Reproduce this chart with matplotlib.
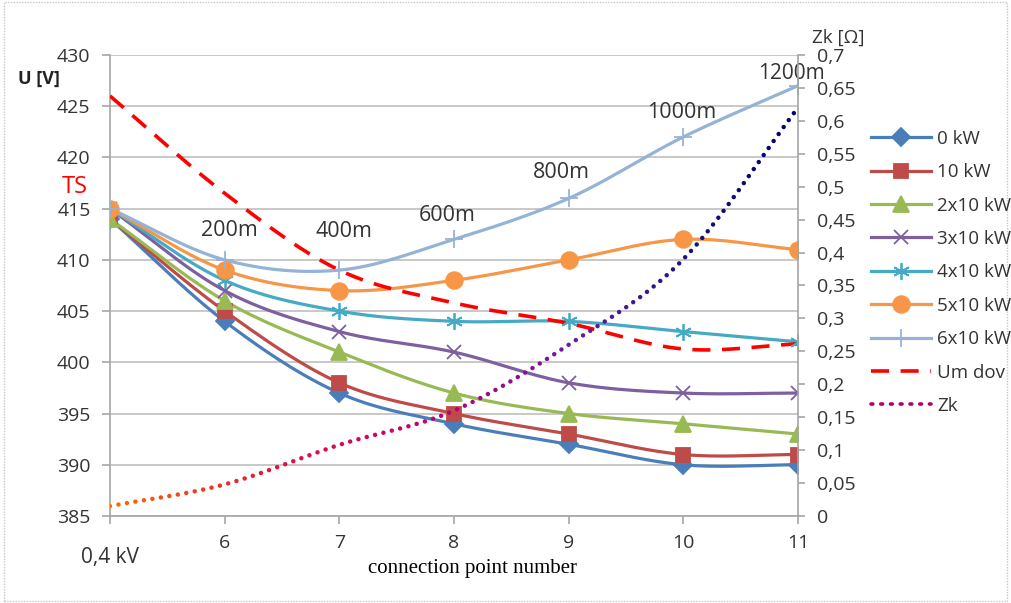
import numpy as np
import matplotlib
matplotlib.use("Agg")
import matplotlib.pyplot as plt
from matplotlib.transforms import ScaledTranslation
from matplotlib.patches import Rectangle
from matplotlib.lines import Line2D
from matplotlib.colors import LinearSegmentedColormap

plt.rcParams['font.family'] = ['Open Sans', 'DejaVu Sans']

# DATA
categories = ['0,4 kV', '6', '7', '8', '9', '10', '11']
u_0kw = [414, 404, 397, 394, 392, 390, 390]
u_10kw = [414, 405, 398, 395, 393, 391, 391]
u_2x10 = [414, 406, 401, 397, 395, 394, 393]
u_3x10 = [415, 407, 403, 401, 398, 397, 397]
u_4x10 = [415, 408, 405, 404, 404, 403, 402]
u_5x10 = [415, 409, 407, 408, 410, 412, 411]
u_6x10 = [415, 410, 409, 412, 416, 422, 427]
um_dov = [426, 416.5, 409, 405.8, 403.8, 401.3, 401.8]
zk = [0.015, 0.048, 0.108, 0.16, 0.26, 0.39, 0.62]
dist_labels = ['200m', '400m', '600m', '800m', '1000m', '1200m']


def smooth(xs, ys, n=30):
    # catmull-rom spline through the points, like excel "smoothed line"
    xs = np.asarray(xs, float)
    ys = np.asarray(ys, float)
    px = np.concatenate([[2 * xs[0] - xs[1]], xs, [2 * xs[-1] - xs[-2]]])
    py = np.concatenate([[2 * ys[0] - ys[1]], ys, [2 * ys[-1] - ys[-2]]])
    outx, outy = [], []
    t = np.linspace(0, 1, n, endpoint=False)
    for i in range(1, len(px) - 2):
        for p, out in ((px, outx), (py, outy)):
            p0, p1, p2, p3 = p[i - 1], p[i], p[i + 1], p[i + 2]
            out.extend(0.5 * (2 * p1 + (-p0 + p2) * t
                              + (2 * p0 - 5 * p1 + 4 * p2 - p3) * t ** 2
                              + (-p0 + 3 * p1 - 3 * p2 + p3) * t ** 3))
    outx.append(xs[-1])
    outy.append(ys[-1])
    return np.array(outx), np.array(outy)


fig = plt.figure(figsize=(10.11, 6.03), dpi=100)
ax = fig.add_axes([0.1088, 0.1443, 0.6805, 0.7645])
ax2 = ax.twinx()

x = np.arange(len(categories))

series = [
    ('0 kW', u_0kw, '#4A7EBB', 'D', 9),
    ('10 kW', u_10kw, '#BE4B48', 's', 10.5),
    ('2x10 kW', u_2x10, '#98B954', '^', 11),
    ('3x10 kW', u_3x10, '#7D60A0', 'x', 10),
    ('4x10 kW', u_4x10, '#46AAC5', (6, 2, 0), 12),
    ('5x10 kW', u_5x10, '#F79646', 'o', 12),
    ('6x10 kW', u_6x10, '#95B3D7', '+', 13),
]

handles = []
for name, vals, col, mk, ms in series:
    sx, sy = smooth(x, vals)
    ax.plot(sx, sy, color=col, lw=2.3, zorder=3)
    ax.plot(x, vals, linestyle='none', marker=mk, ms=ms, color=col,
            markeredgecolor=col, mew=1.3, zorder=4)
    h, = ax.plot([], [], color=col, lw=2.3, marker=mk, ms=ms,
                 markeredgecolor=col, mew=1.3)
    handles.append(h)

sx, sy = smooth(x, um_dov)
ax.plot(sx, sy, color='#FF0000', lw=2.6, dashes=(5, 3.2), zorder=3)
h, = ax.plot([], [], color='#FF0000', lw=2.6, dashes=(5, 3.2))
handles.append(h)

# axes setup
ax.set_xlim(0, 6)
ax.set_ylim(385, 430)
ax.set_yticks(np.arange(385, 431, 5))
ax.set_xticks(x)
ax.set_xticklabels(categories)
ax2.set_ylim(0, 0.7)
zt = np.round(np.arange(0, 0.701, 0.05), 2)
ax2.set_yticks(zt)
ax2.set_yticklabels([('%g' % v).replace('.', ',') for v in zt])

ax.grid(axis='y', color='#BFBFBF', lw=1.2)
ax.set_axisbelow(True)
for a in (ax, ax2):
    a.spines['top'].set_visible(False)
    for s in ('left', 'right', 'bottom'):
        a.spines[s].set_color('#A6A6A6')
        a.spines[s].set_linewidth(1.2)
ax.spines['right'].set_visible(False)
ax2.spines['left'].set_visible(False)
ax2.spines['bottom'].set_visible(False)
ax.tick_params(axis='y', length=6, width=1.2, color='#A6A6A6', pad=8,
               labelsize=14, labelcolor='#333333')
ax.tick_params(axis='x', length=6, width=1.2, color='#A6A6A6', pad=7,
               labelsize=14, labelcolor='#333333')
ax2.tick_params(axis='y', length=5, width=1.2, color='#A6A6A6', pad=9,
                labelsize=14, labelcolor='#333333')
lab0 = ax.get_xticklabels()[0]
lab0.set_fontsize(15)
lab0.set_transform(lab0.get_transform()
                   + ScaledTranslation(0, -0.13, fig.dpi_scale_trans))

# Zk dotted line with colour gradient
sx, sy = smooth(x, zk, n=60)
fig.canvas.draw()
pts = ax2.transData.transform(np.column_stack([sx, sy]))
seg = np.hypot(np.diff(pts[:, 0]), np.diff(pts[:, 1]))
arc = np.concatenate([[0], np.cumsum(seg)])
d = np.arange(0, arc[-1] + 0.1, 8.6)
dx = np.interp(d, arc, sx)
dy = np.interp(d, arc, sy)
zcmap = LinearSegmentedColormap.from_list(
    'zk', ['#FF6A00', '#E8103A', '#C0007A', '#6A1B9A', '#14107A', '#000070'])
ax2.scatter(dx, dy, s=10, c=zcmap(d / arc[-1]), linewidths=0, zorder=5)
zk_handle = Line2D([], [], color='#B0006A', lw=2.6, linestyle=(0, (0.5, 2.2)),
                   dash_capstyle='round')
handles.append(zk_handle)

# distance labels over the 6x10 kW line
offs = [(3.5, 21.5), (3, 27.5), (-5, 17.5), (-5, 18.5), (-1.5, 17.3), (-5, 8.5)]
for i, txt in enumerate(dist_labels):
    ax.annotate(txt, (x[i + 1], u_6x10[i + 1]), xytext=offs[i],
                textcoords='offset points', ha='center', va='center',
                fontsize=15.5 if i < 5 else 15, color='#333333', zorder=6)

fig.text(0.018, 0.87, 'U [V]', fontsize=13, fontweight='bold', color='#222222',
         ha='left', va='center')
fig.text(0.061, 0.69, 'TS', fontsize=17, color='#FF0000', ha='left', va='center')
fig.text(0.803, 0.937, 'Zk [Ω]', fontsize=13.5, color='#333333',
         ha='left', va='center')
fig.text(0.467, 0.057, 'connection point number', fontsize=15,
         family=['Liberation Serif', 'DejaVu Serif'], ha='center', va='center')

labels = [s[0] for s in series] + ['Um dov', 'Zk']
fig.legend(handles, labels, loc='upper left', bbox_to_anchor=(0.854, 0.797),
           frameon=False, fontsize=13.5, handlelength=3.2, labelspacing=0.82,
           handletextpad=0.35, borderaxespad=0, labelcolor='#333333')

fig.patches.append(Rectangle((0.004, 0.004), 0.992, 0.992, transform=fig.transFigure,
                             fill=False, edgecolor='#C8C8C8', lw=1.0,
                             linestyle=(0, (1, 1))))

fig.savefig('out.png', dpi=100)
